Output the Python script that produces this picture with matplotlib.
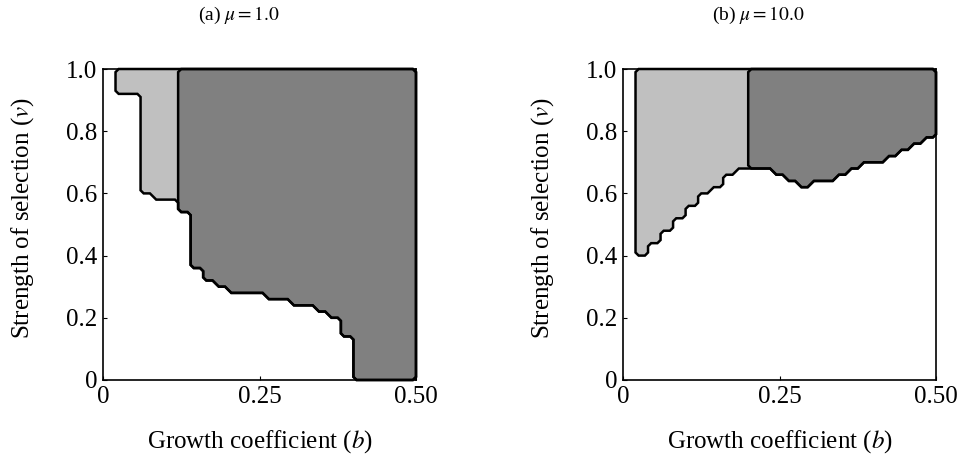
import numpy as np
import matplotlib
matplotlib.use('Agg')
import matplotlib.pyplot as plt

plt.rcParams['font.family'] = ['Liberation Serif', 'DejaVu Serif']
plt.rcParams['mathtext.fontset'] = 'stix'

# one threshold per b cell (width 0.02): the strategy is selected where
# the strength of selection v is above the threshold
b_edges = np.arange(0.0, 0.5001, 0.02)
v_cells = np.arange(0.01, 1.0, 0.02)

thresh_a = [1.00, 0.92, 0.92, 0.60, 0.58, 0.58, 0.54, 0.36, 0.32, 0.30,
            0.28, 0.28, 0.28, 0.26, 0.26, 0.24, 0.24, 0.22, 0.20, 0.14,
            0.00, 0.00, 0.00, 0.00, 0.00]
dark_from_a = 0.12

thresh_b = [1.00, 0.40, 0.44, 0.48, 0.52, 0.56, 0.60, 0.62, 0.66, 0.68,
            0.68, 0.68, 0.66, 0.64, 0.62, 0.64, 0.64, 0.66, 0.68, 0.70,
            0.70, 0.72, 0.74, 0.76, 0.78]
dark_from_b = 0.20

titles = [r'(a) $\mu = 1.0$', r'(b) $\mu = 10.0$']
light = '#c0c0c0'
dark = '#808080'


def build_grid(thresh, dark_from):
    # two nodes per b cell, plus one padded node outside each edge so the
    # contour lines land exactly on 0 / 0.5 / 1
    lo = b_edges[:-1]
    bc = np.sort(np.concatenate([lo + 0.005, lo + 0.015]))
    tc = np.repeat(thresh, 2)
    bn = np.concatenate([[-0.005], bc, [0.505]])
    vn = np.concatenate([[-0.01], v_cells, [1.01]])
    B, V = np.meshgrid(bn, vn)
    T = np.concatenate([[2.0], tc, [2.0]])
    col = (V > T[None, :]).astype(float)
    col[0, :] = 0
    col[-1, :] = 0
    drk = col * (B > dark_from)
    return bn, vn, col, drk


def draw_panel(ax, thresh, dark_from):
    bn, vn, col, drk = build_grid(thresh, dark_from)
    ax.contourf(bn, vn, col, levels=[0.5, 1.5], colors=[light])
    ax.contourf(bn, vn, drk, levels=[0.5, 1.5], colors=[dark])
    for z in [col, drk]:
        cs = ax.contour(bn, vn, z, levels=[0.5], colors='k', linewidths=1.8)
        cs.set_clip_on(False)
        cs.set_joinstyle('miter')
    ax.set_xlim(0, 0.5)
    ax.set_ylim(0, 1)
    ax.set_xticks([0, 0.25, 0.5])
    ax.set_xticklabels(['0', '0.25', '0.50'])
    ax.set_yticks([0, 0.2, 0.4, 0.6, 0.8, 1.0])
    ax.set_yticklabels(['0', '0.2', '0.4', '0.6', '0.8', '1.0'])
    ax.tick_params(direction='in', length=3, width=0.8, labelsize=18, pad=4)
    for s in ax.spines.values():
        s.set_linewidth(1.2)
    ax.set_xlabel(r'Growth coefficient ($b$)', fontsize=18)
    ax.set_ylabel(r'Strength of selection ($v$)', fontsize=18)
    ax.xaxis.set_label_coords(0.5, -0.155)
    ax.yaxis.set_label_coords(-0.215, 0.52)


fig = plt.figure(figsize=(9.63, 4.76), dpi=100)
ax1 = fig.add_axes([103 / 963, 1 - 380 / 476, 313 / 963, 311 / 476])
ax2 = fig.add_axes([623 / 963, 1 - 380 / 476, 313 / 963, 311 / 476])

draw_panel(ax1, thresh_a, dark_from_a)
draw_panel(ax2, thresh_b, dark_from_b)

fig.text(239 / 963, 1 - 15 / 476, titles[0], ha='center', va='center', fontsize=14)
fig.text(758 / 963, 1 - 15 / 476, titles[1], ha='center', va='center', fontsize=14)

fig.savefig('out.png', dpi=100)
